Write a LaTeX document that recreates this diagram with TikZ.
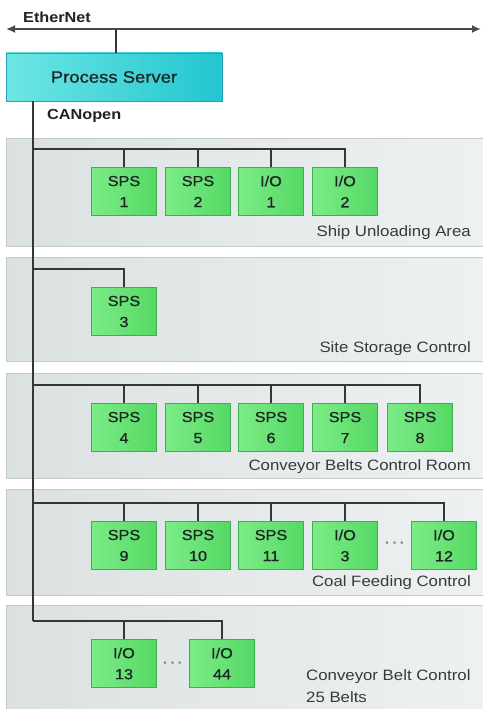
\documentclass[tikz,border=0pt]{standalone}
\usepackage{fontspec}
\setmainfont[FakeStretch=1.12]{Liberation Sans}
\newfontfamily\medfont[FakeBold=0.8,FakeStretch=1.12]{Liberation Sans}
\usetikzlibrary{arrows.meta}
\definecolor{wire}{HTML}{363636}
\definecolor{ethwire}{HTML}{4A4A4A}
\definecolor{txt}{HTML}{1E2424}
\definecolor{boxedge}{HTML}{3FAE50}
\definecolor{boxlight}{HTML}{7CEC86}
\definecolor{boxdark}{HTML}{55D865}
\definecolor{srvedge}{HTML}{2A9EC2}
\definecolor{srvL}{HTML}{6EE6E4}
\definecolor{srvM}{HTML}{8FF0EE}
\definecolor{srvR}{HTML}{22C6D0}
\definecolor{panelL}{HTML}{DBE1E1}
\definecolor{panelR}{HTML}{EEF1F1}
\definecolor{paneledge}{HTML}{C3CACA}
\begin{document}
\begin{tikzpicture}[x=1pt,y=-1pt,
  unit/.style={draw=boxedge, line width=0.8pt, left color=boxlight, right color=boxdark,
    minimum width=65pt, minimum height=48pt, inner sep=0pt, align=center,
    font=\medfont\fontsize{14.5}{21}\selectfont, text=txt},
  server/.style={draw=srvedge, line width=0.8pt, left color=srvL, middle color=srvM, right color=srvR,
    minimum width=216pt, minimum height=48pt, inner sep=0pt,
    font=\medfont\fontsize{16.5}{20}\selectfont, text=txt},
  panel/.style={draw=paneledge, line width=0.6pt, left color=panelL, right color=panelR},
  wire/.style={draw=wire, line width=1.6pt},
  area/.style={font=\fontsize{15}{22}\selectfont, text=txt!90!white, anchor=east, inner sep=0pt},
  dots/.style={font=\fontsize{20}{20}\selectfont, text=gray, inner sep=0pt},
  title/.style={font=\fontsize{14.5}{16}\selectfont\bfseries, text=txt, anchor=west, inner sep=0pt}]
\useasboundingbox (0,0) rectangle (482,709);
\fill[white] (0,0) rectangle (482,709);

% panels
\path[panel] (6,138) rectangle (483,246);
\path[panel] (6,257) rectangle (483,361);
\path[panel] (6,373) rectangle (483,478);
\path[panel] (6,489) rectangle (483,595);
\path[panel] (6,605) rectangle (483,712);

% titles
\node[title] (eth) at (23,17) {EtherNet};
\node[title] (can) at (47,116) {CANopen};

% ethernet
\coordinate (eL) at (6,29);
\coordinate (eR) at (481,29);
\coordinate (etap) at (116,29);
\draw[draw=ethwire, line width=2.2pt, {Latex[length=9pt,width=8pt]}-{Latex[length=9pt,width=8pt]}] (eL) -- (eR);

% server
\node[server] (ps) at (114,77) {Process Server};
\draw[wire] (etap) -- (etap |- ps.north);

% bus coordinates
\coordinate (h1) at (33,149);
\coordinate (h2) at (33,269);
\coordinate (h3) at (33,385);
\coordinate (h4) at (33,503);
\coordinate (h5) at (33,621);
\draw[wire] (ps.south -| h1) -- (h5);

% panel 1
\node[unit] (s1) at (124,191.5) {SPS\\1};
\node[unit] (s2) at (198,191.5) {SPS\\2};
\node[unit] (io1) at (271,191.5) {I/O\\1};
\node[unit] (io2) at (345,191.5) {I/O\\2};
\draw[wire] (h1) -| (io2.north);
\foreach \n in {s1,s2,io1} \draw[wire] (\n.north) -- (\n.north |- h1);
\node[area] (a1) at (471,233) {Ship Unloading Area};

% panel 2
\node[unit] (s3) at (124,311.5) {SPS\\3};
\draw[wire] (h2) -| (s3.north);
\node[area] (a2) at (471,349) {Site Storage Control};

% panel 3
\node[unit] (s4) at (124,427.5) {SPS\\4};
\node[unit] (s5) at (198,427.5) {SPS\\5};
\node[unit] (s6) at (271,427.5) {SPS\\6};
\node[unit] (s7) at (345,427.5) {SPS\\7};
\node[unit] (s8) at (420,427.5) {SPS\\8};
\draw[wire] (h3) -| (s8.north);
\foreach \n in {s4,s5,s6,s7} \draw[wire] (\n.north) -- (\n.north |- h3);
\node[area] (a3) at (471,467) {Conveyor Belts Control Room};

% panel 4
\node[unit] (s9) at (124,545.5) {SPS\\9};
\node[unit] (s10) at (198,545.5) {SPS\\10};
\node[unit] (s11) at (271,545.5) {SPS\\11};
\node[unit] (io3) at (345,545.5) {I/O\\3};
\node[unit] (io12) at (444,545.5) {I/O\\12};
\draw[wire] (h4) -| (io12.north);
\foreach \n in {s9,s10,s11,io3} \draw[wire] (\n.north) -- (\n.north |- h4);
\node[dots] (d1) at (394.5,545) {···};
\node[area] (a4) at (471,583) {Coal Feeding Control};

% panel 5
\node[unit] (io13) at (124,663.5) {I/O\\13};
\node[unit] (io44) at (222,663.5) {I/O\\44};
\draw[wire] (h5) -| (io44.north);
\draw[wire] (io13.north) -- (io13.north |- h5);
\node[dots] (d2) at (172.5,665) {···};
\node[font=\fontsize{15}{22}\selectfont, text=txt!90!white, anchor=west, align=left, inner sep=0pt] (a5) at (306,686) {Conveyor Belt Control\\25 Belts};
\end{tikzpicture}
\end{document}
